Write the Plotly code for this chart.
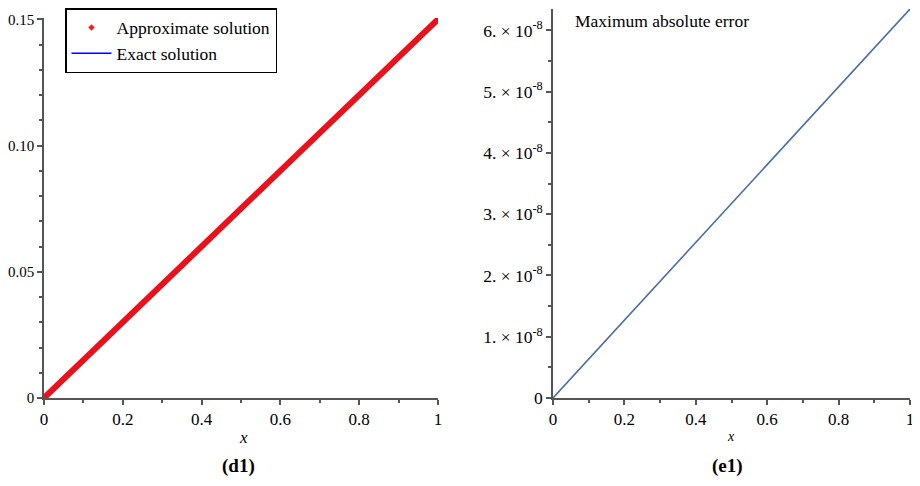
import plotly.graph_objects as go

# Data
x_exact = [0, 1]
y_exact = [0, 0.15]
x_approx = [0, 0.05, 0.1, 0.15, 0.2, 0.25, 0.3, 0.35, 0.4, 0.45, 0.5,
            0.55, 0.6, 0.65, 0.7, 0.75, 0.8, 0.85, 0.9, 0.95, 1.0]
y_approx = [0, 0.0075, 0.015, 0.0225, 0.03, 0.0375, 0.045, 0.0525, 0.06, 0.0675, 0.075,
            0.0825, 0.09, 0.0975, 0.105, 0.1125, 0.12, 0.1275, 0.135, 0.1425, 0.15]
x_err = [0, 1]
y_err = [0, 6.35e-8]

x_ticks = [0, 0.2, 0.4, 0.6, 0.8, 1]
x_ticktext = ["0", "0.2", "0.4", "0.6", "0.8", "1"]
y1_ticks = [0, 0.05, 0.10, 0.15]
y1_ticktext = ["0", "0.05", "0.10", "0.15"]
y2_ticks = [0, 1e-8, 2e-8, 3e-8, 4e-8, 5e-8, 6e-8]
y2_ticktext = ["0"] + [f"{k}. × 10<sup>-8</sup>" for k in range(1, 7)]

FONT = "Liberation Serif"
AX = "#555555"
OFF = 8.0             # page body margin
W = 920.0 - OFF       # figure size so that it fits the window
H = 486.0 - OFF


def px(x):
    return (x - OFF) / W


def py(y):
    return (H - (y - OFF)) / H


fig = go.Figure()
fig.add_trace(go.Scatter(x=x_exact, y=y_exact, mode="lines", line=dict(color="blue", width=1.5),
                         name="Exact solution", showlegend=False, xaxis="x", yaxis="y"))
fig.add_trace(go.Scatter(x=x_approx, y=y_approx, mode="lines+markers",
                         line=dict(color="#e8111c", width=6),
                         marker=dict(symbol="diamond", size=5, color="#e8111c"),
                         name="Approximate solution", showlegend=False, xaxis="x", yaxis="y"))
# legend entries
fig.add_trace(go.Scatter(x=[None], y=[None], mode="markers",
                         marker=dict(symbol="diamond", size=5, color="#ff1a1a"),
                         name="Approximate solution", xaxis="x", yaxis="y"))
fig.add_trace(go.Scatter(x=[None], y=[None], mode="lines", line=dict(color="blue", width=1.5),
                         name="Exact solution", xaxis="x", yaxis="y"))
fig.add_trace(go.Scatter(x=x_err, y=y_err, mode="lines", line=dict(color="#4a6ea8", width=1.6),
                         name="Maximum absolute error", showlegend=False, xaxis="x2", yaxis="y2"))

axis_common = dict(showline=True, linecolor=AX, linewidth=1.5, ticks="outside", ticklen=5,
                   tickcolor=AX, tickwidth=1.5, showgrid=False, zeroline=False, automargin=False)

fig.update_layout(
    width=W, height=H,
    margin=dict(l=0, r=0, t=0, b=0),
    plot_bgcolor="white", paper_bgcolor="white",
    font=dict(family=FONT, color="black"),
    xaxis=dict(domain=[px(44), px(438)], range=[0, 1], anchor="y",
               tickmode="array", tickvals=x_ticks, ticktext=x_ticktext,
               minor=dict(tickmode="linear", tick0=0, dtick=0.1, ticks="outside", ticklen=3, tickcolor=AX),
               tickfont=dict(family=FONT, size=17, color="black"),
               **axis_common),
    yaxis=dict(domain=[py(398), py(18)], range=[0, 0.1505], anchor="x",
               tickmode="array", tickvals=y1_ticks, ticktext=y1_ticktext,
               minor=dict(tickmode="linear", tick0=0, dtick=0.01, ticks="outside", ticklen=3, tickcolor=AX),
               tickfont=dict(family=FONT, size=15, color="black"),
               **axis_common),
    xaxis2=dict(domain=[px(553), px(910)], range=[0, 1], anchor="y2",
                tickmode="array", tickvals=x_ticks, ticktext=x_ticktext,
                minor=dict(tickmode="linear", tick0=0, dtick=0.1, ticks="outside", ticklen=3, tickcolor=AX),
                tickfont=dict(family=FONT, size=17, color="black"),
                **axis_common),
    yaxis2=dict(domain=[py(398), py(9)], range=[0, 6.35e-8], anchor="x2",
                tickmode="array", tickvals=y2_ticks, ticktext=y2_ticktext,
                minor=dict(tickmode="linear", tick0=0, dtick=0.5e-8, ticks="outside", ticklen=3, tickcolor=AX),
                tickfont=dict(family=FONT, size=17.5, color="black"),
                **axis_common),
    legend=dict(x=px(65), y=py(8), xanchor="left", yanchor="top",
                bordercolor="black", borderwidth=1.5, bgcolor="white",
                font=dict(family=FONT, size=17.5), tracegroupgap=0,
                itemwidth=40),
    annotations=[
        dict(text="<i>x</i>", x=px(243), y=py(437), xref="paper", yref="paper",
             xanchor="center", yanchor="middle",
             showarrow=False, font=dict(family=FONT, size=17)),
        dict(text="<i>x</i>", x=px(731), y=py(436), xref="paper", yref="paper",
             xanchor="center", yanchor="middle",
             showarrow=False, font=dict(family=FONT, size=14)),
        dict(text="<b>(d1)</b>", x=px(239), y=py(466), xref="paper", yref="paper",
             xanchor="center", yanchor="middle",
             showarrow=False, font=dict(family=FONT, size=19)),
        dict(text="<b>(e1)</b>", x=px(727), y=py(466), xref="paper", yref="paper",
             xanchor="center", yanchor="middle",
             showarrow=False, font=dict(family=FONT, size=19)),
        dict(text="Maximum absolute error", x=px(573), y=py(9), xref="paper", yref="paper",
             xanchor="left", yanchor="top", showarrow=False, font=dict(family=FONT, size=17.5)),
    ],
)

fig.write_html("out.html")
